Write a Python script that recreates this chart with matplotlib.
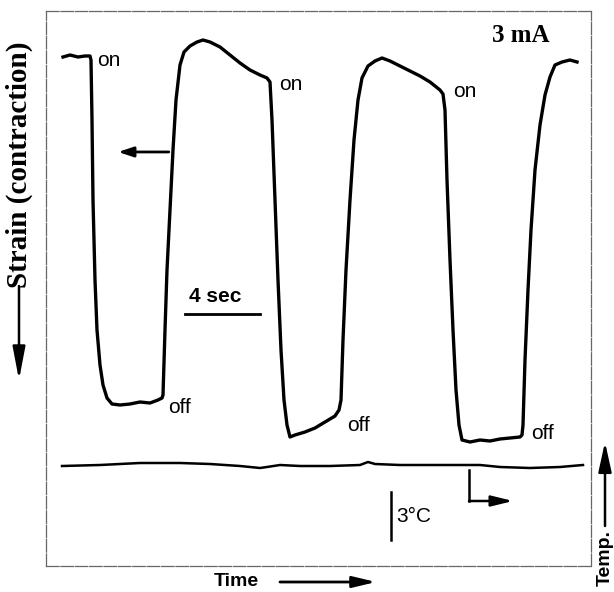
import matplotlib
matplotlib.use("Agg")
import matplotlib.pyplot as plt
import matplotlib.patches as mpatches
import numpy as np

# ---- data (time in s, strain / temperature in arbitrary units) ----
PX_PER_S = 18.75
X0_PX = 46
Y0_PX = 566
PX_PER_U = 5.55

trace_px_x = [63, 70, 78, 85, 90,
              91, 92, 93, 95, 97, 100, 103, 107, 112,
              120, 130, 140, 150, 158, 162,
              163, 165, 167, 170, 173, 176, 180, 184, 190, 197, 203, 210, 220, 230, 240, 250, 260, 267,
              270, 272, 275, 278, 281, 284, 287, 290,
              295, 305, 315, 325, 335, 339,
              341, 343, 346, 350, 354, 358, 362, 368, 375, 382, 390, 400, 410, 420, 430, 440, 443,
              445, 447, 450, 453, 456, 459, 462,
              470, 480, 490, 500, 510, 520, 522,
              523, 525, 528, 531, 535, 540, 545, 550, 555, 562, 570, 577]
trace_px_y = [57, 55, 57, 56, 56,
              60, 120, 200, 280, 330, 365, 385, 398, 404,
              405, 404, 402, 403, 400, 398,
              395, 330, 270, 210, 150, 100, 65, 52, 46, 42, 40, 42, 47, 55, 63, 70, 75, 78,
              82, 120, 200, 280, 350, 400, 425, 437,
              435, 432, 428, 422, 416, 410,
              400, 340, 270, 200, 140, 100, 78, 66, 61, 58, 61, 66, 71, 76, 82, 90, 94,
              110, 180, 260, 330, 390, 425, 440,
              442, 440, 441, 439, 438, 437, 435,
              425, 360, 290, 230, 170, 125, 95, 77, 65, 62, 60, 62]

temp_px_x = [62, 100, 140, 180, 210, 240, 260, 267, 280, 300, 330, 360, 368, 375,
             400, 430, 460, 480, 500, 530, 560, 583]
temp_px_y = [466, 465, 463, 463, 464, 466, 468, 467, 465, 466, 466, 465, 462, 464,
             465, 465, 465, 465, 467, 468, 467, 465]

time_s = (np.array(trace_px_x) - X0_PX) / PX_PER_S
strain = (Y0_PX - np.array(trace_px_y)) / PX_PER_U
temp_t = (np.array(temp_px_x) - X0_PX) / PX_PER_S
temp = (Y0_PX - np.array(temp_px_y)) / PX_PER_U

on_labels = [(2.7, 91.0), (12.45, 86.8), (21.7, 85.5)]
off_labels = [(6.5, 28.6), (16.05, 25.4), (25.85, 23.8)]

W, H = 614, 592
fig = plt.figure(figsize=(W / 100, H / 100), dpi=100)
ax = fig.add_axes([X0_PX / W, (H - Y0_PX) / H, (591 - X0_PX) / W, (Y0_PX - 11) / H])
ax.set_xlim(0, (591 - X0_PX) / PX_PER_S)
ax.set_ylim(0, (Y0_PX - 11) / PX_PER_U)
ax.set_xticks([])
ax.set_yticks([])
for sp in ax.spines.values():
    sp.set_color("#666666")
    sp.set_linewidth(0.9)
    sp.set_linestyle((0, (10, 1.5)))

ax.plot(time_s, strain, color="black", lw=2.4, solid_joinstyle="round")
ax.plot(temp_t, temp, color="black", lw=1.8)

sans = "Liberation Sans"
serif = "Liberation Serif"
for (x, y) in on_labels:
    ax.text(x, y, "on", fontsize=15, family=sans, va="center", ha="left")
for (x, y) in off_labels:
    ax.text(x, y, "off", fontsize=15, family=sans, va="center", ha="left")

ax.text(25.3, 95.5, "3 mA", fontsize=18, family=serif, weight="bold", ha="center", va="center")

# left-pointing arrow
ax.annotate("", xy=(3.85, 74.6), xytext=(6.55, 74.6),
            arrowprops=dict(arrowstyle="-|>,head_length=0.9,head_width=0.3", color="black", lw=2,
                            shrinkA=0, shrinkB=0))

# 4 sec scale bar
bar_x0 = (185 - X0_PX) / PX_PER_S
ax.plot([bar_x0, bar_x0 + 4], [(Y0_PX - 314) / PX_PER_U] * 2, color="black", lw=2)
ax.text(bar_x0 + 1.6, (Y0_PX - 297) / PX_PER_U, "4 sec", fontsize=15, family=sans,
        weight="bold", ha="center", va="center")

# 3 C scale bar
ax.plot([(391 - X0_PX) / PX_PER_S] * 2, [(Y0_PX - 492) / PX_PER_U, (Y0_PX - 540) / PX_PER_U],
        color="black", lw=1.8)
ax.text((396 - X0_PX) / PX_PER_S, (Y0_PX - 517) / PX_PER_U, "3°C", fontsize=15, family=sans,
        ha="left", va="center")

# bracket arrow to the right
bx = (469 - X0_PX) / PX_PER_S
ax.plot([bx, bx], [(Y0_PX - 470) / PX_PER_U, (Y0_PX - 501) / PX_PER_U], color="black", lw=1.8)
ax.annotate("", xy=((513 - X0_PX) / PX_PER_S, (Y0_PX - 501) / PX_PER_U),
            xytext=(bx, (Y0_PX - 501) / PX_PER_U),
            arrowprops=dict(arrowstyle="-|>,head_length=1.3,head_width=0.32", color="black", lw=1.8,
                            shrinkA=0, shrinkB=0))

# outside labels (figure coords)
def fx(px):
    return px / W

def fy(py):
    return 1 - py / H

fig.text(fx(19), fy(165), "Strain (contraction)", rotation=90, fontsize=21, family=serif,
         weight="bold", ha="center", va="center")
fig.add_artist(mpatches.FancyArrowPatch((fx(19), fy(286)), (fx(19), fy(380)),
               transform=fig.transFigure, arrowstyle="-|>,head_length=1.0,head_width=0.19",
               mutation_scale=20, color="black", lw=1.8, shrinkA=0, shrinkB=0))

fig.text(fx(236), fy(581), "Time", fontsize=14, family=sans, weight="bold", ha="center", va="center")
fig.add_artist(mpatches.FancyArrowPatch((fx(280), fy(582)), (fx(376), fy(582)),
               transform=fig.transFigure, arrowstyle="-|>,head_length=1.0,head_width=0.24",
               mutation_scale=14, color="black", lw=2, shrinkA=0, shrinkB=0))

fig.text(fx(605), fy(558), "Temp.", rotation=90, fontsize=14, family=sans, weight="bold",
         ha="center", va="center")
fig.add_artist(mpatches.FancyArrowPatch((fx(605), fy(526)), (fx(605), fy(442)),
               transform=fig.transFigure, arrowstyle="-|>,head_length=1.0,head_width=0.22",
               mutation_scale=18, color="black", lw=1.8, shrinkA=0, shrinkB=0))

fig.savefig("out.png", dpi=100)
